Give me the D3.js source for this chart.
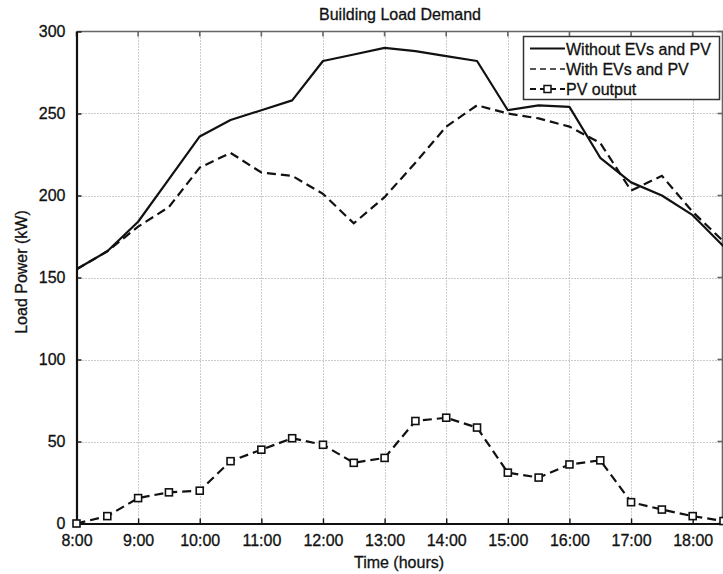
<!DOCTYPE html>
<html>
<head>
<meta charset="utf-8">
<script src="https://cdn.jsdelivr.net/npm/d3@7"></script>
<style>
  html, body { margin: 0; padding: 0; background: #fff; }
  svg { display: block; }
  text { font-family: "Liberation Sans", Arial, Helvetica, sans-serif; fill: #111;
         stroke: #111; stroke-width: 0.3px; }
</style>
</head>
<body>
<svg id="chart" width="723" height="574"></svg>
<script>
// Half-hourly time steps (hours of the day)
const timeHours = [8, 8.5, 9, 9.5, 10, 10.5, 11, 11.5, 12, 12.5, 13, 13.5,
                   14, 14.5, 15, 15.5, 16, 16.5, 17, 17.5, 18, 18.5];

// Building load without EV charging and PV (kW)
const loadWithout = [155, 166, 184, 210, 236, 246, 252, 258, 282, 286, 290, 288,
                     285, 282, 252, 255, 254, 223, 208, 200, 188, 169];

// Building load with EV charging and PV (kW)
const loadWith = [155, 166, 181, 193, 217, 226, 214, 212, 201, 183, 199, 220,
                  242, 255, 250, 247, 242, 232, 203, 212, 190, 172];

// PV generation (kW)
const pvOutput = [0, 4.5, 15.5, 19, 20, 38, 45, 52, 48, 37, 40, 62.5,
                  64.5, 58.5, 31, 28, 36, 38.5, 13, 8.5, 4.5, 1.5];

// Axis ticks
const xTickValues = [8, 9, 10, 11, 12, 13, 14, 15, 16, 17, 18];
const xTickLabels = ["8:00", "9:00", "10:00", "11:00", "12:00", "13:00",
                     "14:00", "15:00", "16:00", "17:00", "18:00"];
const yTickValues = [0, 50, 100, 150, 200, 250, 300];

const seriesNames = ["Without EVs and PV", "With EVs and PV", "PV output"];

const svg = d3.select("#chart");
const plotL = 76.5, plotR = 723.5, plotT = 31.5, plotB = 523.5;

const x = d3.scaleLinear().domain([8, 18.5]).range([plotL, plotR]);
const y = d3.scaleLinear().domain([0, 300]).range([plotB, plotT]);

// Dotted grid
const grid = svg.append("g").attr("stroke", "#999").attr("stroke-width", 1)
  .attr("stroke-dasharray", "1,2");
grid.selectAll("line.v").data(xTickValues.slice(1)).join("line")
  .attr("x1", d => Math.round(x(d)) + 0.5).attr("x2", d => Math.round(x(d)) + 0.5)
  .attr("y1", plotT).attr("y2", plotB);
grid.selectAll("line.h").data(yTickValues.slice(1, -1)).join("line")
  .attr("x1", plotL).attr("x2", plotR)
  .attr("y1", d => Math.round(y(d)) + 0.5).attr("y2", d => Math.round(y(d)) + 0.5);

// Top and right frame with inward ticks
const frame = svg.append("g").attr("stroke", "#666").attr("stroke-width", 1.6).attr("fill", "none");
frame.append("line").attr("x1", plotL).attr("x2", plotR).attr("y1", plotT).attr("y2", plotT);
frame.append("line").attr("x1", plotR - 1).attr("x2", plotR - 1).attr("y1", plotT).attr("y2", plotB);
frame.selectAll("line.tt").data(xTickValues).join("line")
  .attr("x1", d => x(d)).attr("x2", d => x(d)).attr("y1", plotT).attr("y2", plotT + 5);
frame.selectAll("line.rt").data(yTickValues).join("line")
  .attr("x1", plotR - 6).attr("x2", plotR).attr("y1", d => y(d)).attr("y2", d => y(d));

// Bottom axis
const xAxis = d3.axisBottom(x).tickValues(xTickValues)
  .tickFormat((d, i) => xTickLabels[i]).tickSizeInner(-5).tickSizeOuter(0).tickPadding(11);
const gx = svg.append("g").attr("transform", `translate(0,${plotB})`).call(xAxis);
gx.select(".domain").attr("stroke", "#111").attr("stroke-width", 2.2);
gx.selectAll(".tick line").attr("stroke", "#111").attr("stroke-width", 1.4);
gx.selectAll(".tick text").attr("font-size", 16).attr("fill", "#111")
  .style("font-family", "'Liberation Sans', Arial, sans-serif");

// Left axis
const yAxis = d3.axisLeft(y).tickValues(yTickValues)
  .tickSizeInner(-5).tickSizeOuter(0).tickPadding(11);
const gy = svg.append("g").attr("transform", `translate(${plotL},0)`).call(yAxis);
gy.select(".domain").attr("stroke", "#111").attr("stroke-width", 2.2);
gy.selectAll(".tick line").attr("stroke", "#111").attr("stroke-width", 1.4);
gy.selectAll(".tick text").attr("font-size", 16).attr("fill", "#111")
  .style("font-family", "'Liberation Sans', Arial, sans-serif");

// Titles
svg.append("text").attr("x", (plotL + plotR) / 2).attr("y", 20)
  .attr("text-anchor", "middle").attr("font-size", 16).text("Building Load Demand");
svg.append("text").attr("x", 399).attr("y", 568)
  .attr("text-anchor", "middle").attr("font-size", 16).text("Time (hours)");
svg.append("text").attr("transform", "translate(27,272) rotate(-90)")
  .attr("text-anchor", "middle").attr("font-size", 16).text("Load Power (kW)");

// Series lines
const line = vals => d3.line().x((d, i) => x(timeHours[i])).y(d => y(d))(vals);
const plot = svg.append("g");

plot.append("path").attr("d", line(loadWithout))
  .attr("fill", "none").attr("stroke", "#111").attr("stroke-width", 2.2)
  .attr("stroke-linejoin", "round");
plot.append("path").attr("d", line(loadWith))
  .attr("fill", "none").attr("stroke", "#111").attr("stroke-width", 2.2)
  .attr("stroke-dasharray", "9,5");
plot.append("path").attr("d", line(pvOutput))
  .attr("fill", "none").attr("stroke", "#111").attr("stroke-width", 2.2)
  .attr("stroke-dasharray", "9,5");

const sq = 7;
plot.selectAll("rect.pv").data(pvOutput).join("rect")
  .attr("x", (d, i) => x(timeHours[i]) - sq / 2)
  .attr("y", d => y(d) - sq / 2)
  .attr("width", sq).attr("height", sq)
  .attr("fill", "#fff").attr("stroke", "#111").attr("stroke-width", 1.6);

// Legend
const lg = svg.append("g");
lg.append("rect").attr("x", 523.5).attr("y", 36.5).attr("width", 196).attr("height", 63)
  .attr("fill", "#fff").attr("stroke", "#333").attr("stroke-width", 1.5);
const rowY = [48.5, 69, 89];
const dashes = [null, "6,4", "6,4"];
seriesNames.forEach((name, i) => {
  lg.append("line").attr("x1", 530).attr("x2", 565).attr("y1", rowY[i]).attr("y2", rowY[i])
    .attr("stroke", i === 1 ? "#555" : "#111").attr("stroke-width", 2)
    .attr("stroke-dasharray", dashes[i]);
  lg.append("text").attr("x", 566).attr("y", rowY[i] + 6)
    .attr("font-size", 16).text(name);
});
lg.append("rect").attr("x", 547.5 - sq / 2).attr("y", rowY[2] - sq / 2)
  .attr("width", sq).attr("height", sq)
  .attr("fill", "#fff").attr("stroke", "#111").attr("stroke-width", 1.5);
</script>
</body>
</html>
